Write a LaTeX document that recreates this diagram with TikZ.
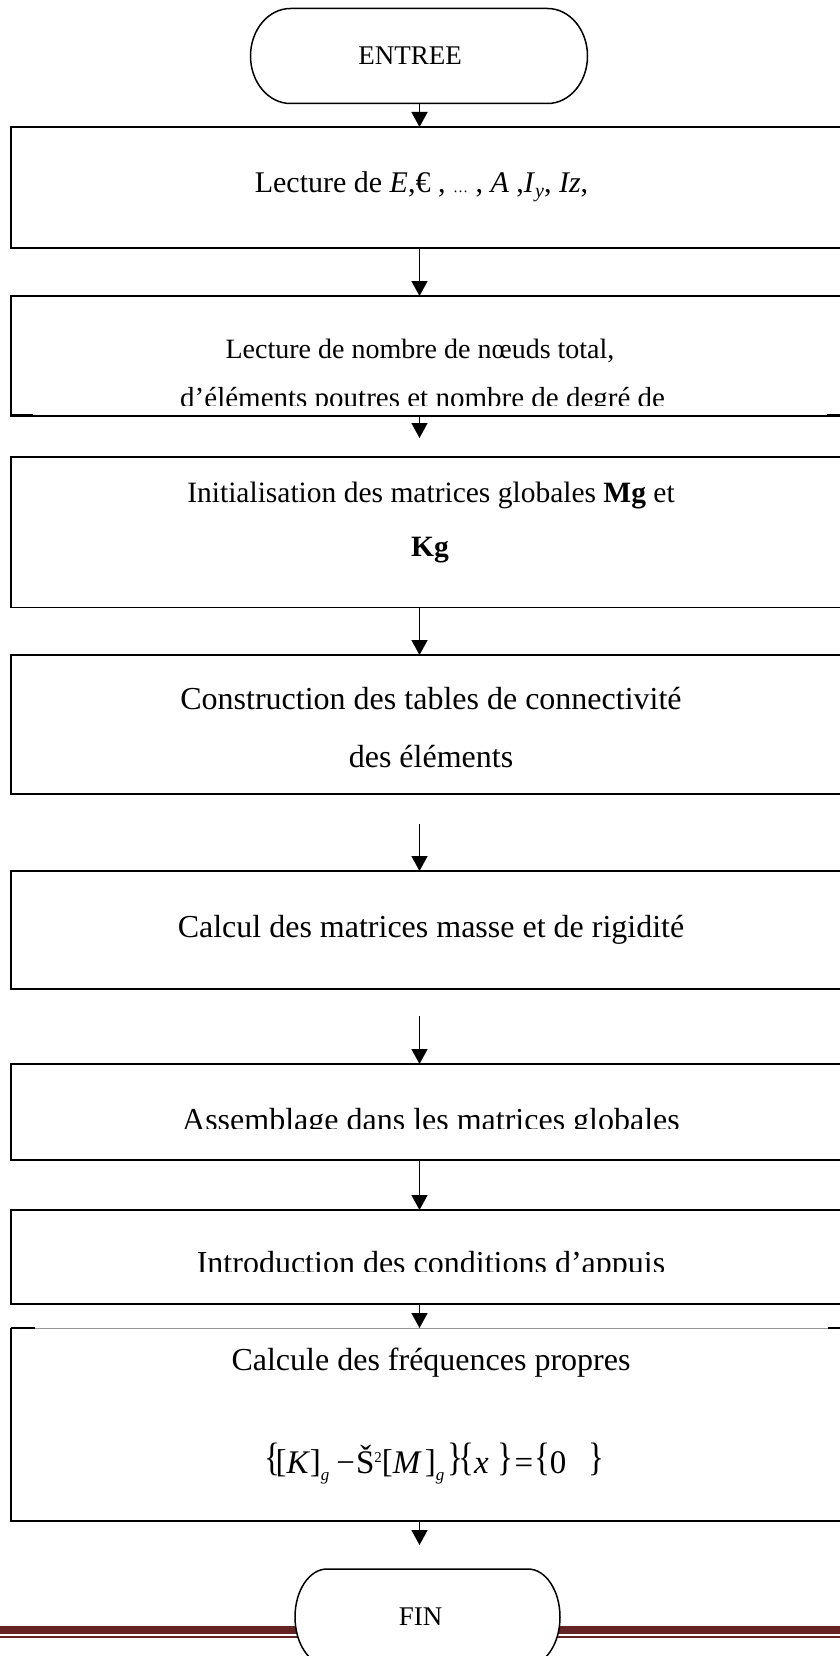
\documentclass[tikz,border=0pt]{standalone}
\usepackage{fontspec}
\usepackage{graphicx}
\setmainfont{Liberation Serif}
\usetikzlibrary{arrows.meta}
\definecolor{darkred}{RGB}{99,36,35}
\definecolor{topgray}{RGB}{150,150,150}
\newcommand{\eqbr}[1]{\raisebox{2.5pt}{\scalebox{1}[1.2]{#1}}}
\newcommand{\eqbk}[1]{\raisebox{1pt}{#1}}
\newcommand{\eqsub}[1]{\raisebox{-7pt}{\fontsize{17}{17}\selectfont\textit{#1}}}
\newcommand{\eqsup}[1]{\raisebox{11pt}{\fontsize{15}{15}\selectfont #1}}
\begin{document}
\begin{tikzpicture}[x=1pt,y=-1pt,
  boxnd/.style={anchor=north west, minimum width=860pt, inner sep=0pt, outer sep=0pt},
  box/.style={boxnd, draw, line width=1.6pt},
  arr/.style={line width=1.5pt, -{Triangle[width=16pt,length=15pt]}},
  txt/.style={inner sep=0pt, outer sep=0pt, anchor=base, font=\fontsize{32}{38}\selectfont},
  smalltxt/.style={txt, font=\fontsize{29}{34}\selectfont},
  term/.style={inner sep=0pt, outer sep=0pt, font=\fontsize{27}{32}\selectfont},
  outline/.style={line width=1.5pt, fill=white}
  ]
\useasboundingbox (0,0) rectangle (840,1656);
\clip (0,0) rectangle (840,1656);

% ENTREE terminator
\node[term, minimum width=337pt, minimum height=95pt] (entree) at (419,56) {};
\begin{scope}[shift={(entree.center)}]
\draw[outline] (-128.5,-47.5) -- (128.5,-47.5)
  .. controls (150.6,-47.5) and (168.5,-26.2) .. (168.5,0)
  .. controls (168.5,26.2) and (150.6,47.5) .. (128.5,47.5)
  -- (-128.5,47.5)
  .. controls (-150.6,47.5) and (-168.5,26.2) .. (-168.5,0)
  .. controls (-168.5,-26.2) and (-150.6,-47.5) .. cycle;
\end{scope}
\node[term] (entreetxt) at (410,56) {ENTREE};

% Boxes
\node[box, minimum height=121pt] (b1) at (11,127) {};
\node[box, minimum height=120pt] (b2) at (11,296) {};
\node[box, minimum height=150.5pt] (b3) at (11,457) {};
\node[box, minimum height=139pt] (b4) at (11,655) {};
\node[box, minimum height=118pt] (b5) at (11,871) {};
\node[box, minimum height=96pt] (b6) at (11,1064) {};
\node[box, minimum height=94pt] (b7) at (11,1210) {};
\node[boxnd, minimum height=193pt] (b8) at (11,1328) {};
\draw[line width=1.6pt] (b8.north west) -- (b8.south west) -- (b8.south east) -- (b8.north east);
\draw[topgray, line width=1pt] (b8.north west) -- (b8.north east);
\draw[line width=1.6pt] (b8.north west) -- ++(24,0);
\draw[line width=1.6pt] (828,1328) -- (840,1328);
\draw[line width=2pt] (11,415) -- (33,415);
\draw[line width=2pt] (827,414.5) -- (840,414.5);

% Texts
\node[txt, font=\fontsize{30}{36}\selectfont] (t1) at (421.5,193)
  {Lecture de \textit{E},€ , {\fontsize{15}{15}\selectfont …} , \textit{A} ,\textit{I}\raisebox{-5pt}{\fontsize{20}{20}\selectfont\textit{y}}, \textit{Iz},};
\node[smalltxt, font=\fontsize{28}{34}\selectfont] (t2a) at (420,358) {Lecture de nombre de nœuds total,};
\begin{scope}
\clip (0,0) rectangle (840,405.5);
\node[smalltxt] (t2b) at (422.6,407) {d’éléments poutres et nombre de degré de};
\end{scope}
\node[smalltxt, font=\fontsize{29.5}{34}\selectfont] (t3a) at (431,502) {Initialisation des matrices globales \textbf{Mg} et};
\node[smalltxt, font=\fontsize{29.5}{34}\selectfont] (t3b) at (430,556) {\textbf{Kg}};
\node[txt] (t4a) at (431,709) {Construction des tables de connectivité};
\node[txt] (t4b) at (431,767) {des éléments};
\node[txt] (t5) at (431,937) {Calcul des matrices masse et de rigidité};
\begin{scope}
\clip (0,0) rectangle (840,1128);
\node[txt] (t6) at (431,1130) {Assemblage dans les matrices globales};
\end{scope}
\begin{scope}
\clip (0,0) rectangle (840,1271);
\node[txt] (t7) at (431,1273) {Introduction des conditions d’appuis};
\end{scope}
\node[txt] (t8) at (431,1370) {Calcule des fréquences propres};
\node[txt, font=\fontsize{33}{38}\selectfont] (eq) at (434.5,1473)
  {\eqbr{\{}\kern-5pt\eqbk{[}\textit{K}\eqbk{]}\eqsub{g}\hspace{7pt}−\hspace{1pt}Š\eqsup{2}\eqbk{[}\textit{M}\hspace{3pt}\eqbk{]}\eqsub{g}\hspace{3pt}\eqbr{\}}\kern-5pt\eqbr{\{}\textit{x}\hspace{9pt}\eqbr{\}}\hspace{1pt}=\hspace{1pt}\eqbr{\{}0\hspace{22pt}\eqbr{\}}};

% Arrows
\coordinate (a3e) at (419.5,438);
\coordinate (a5s) at (419.5,824);
\coordinate (a6s) at (419.5,1016);
\coordinate (a9e) at (419.5,1545);
\draw[arr] (entree.south -| a3e) -- (a3e |- b1.north);
\draw[arr] (a3e |- b1.south) -- (a3e |- b2.north);
\draw[arr] (a3e |- b2.south) -- (a3e);
\draw[arr] (a3e |- b3.south) -- (a3e |- b4.north);
\draw[arr] (a5s) -- (a5s |- b5.north);
\draw[arr] (a6s) -- (a6s |- b6.north);
\draw[arr] (a3e |- b6.south) -- (a3e |- b7.north);
\draw[arr] (a3e |- b7.south) -- (a3e |- b8.north);
\draw[arr] (a3e |- b8.south) -- (a9e);

% Bottom rule
\fill[darkred] (0,1626) rectangle (840,1634);
\fill[darkred] (0,1636.3) rectangle (840,1638);

% FIN terminator
\node[term, minimum width=265pt, minimum height=96pt] (fin) at (427.5,1617) {};
\begin{scope}[shift={(fin.center)}]
\draw[outline] (-100.5,-48) -- (100.5,-48)
  .. controls (118.2,-48) and (132.5,-26.5) .. (132.5,0)
  .. controls (132.5,26.5) and (118.2,48) .. (100.5,48)
  -- (-100.5,48)
  .. controls (-118.2,48) and (-132.5,26.5) .. (-132.5,0)
  .. controls (-132.5,-26.5) and (-118.2,-48) .. cycle;
\end{scope}
\node[term] (fintxt) at (420.5,1617) {FIN};
\end{tikzpicture}
\end{document}
